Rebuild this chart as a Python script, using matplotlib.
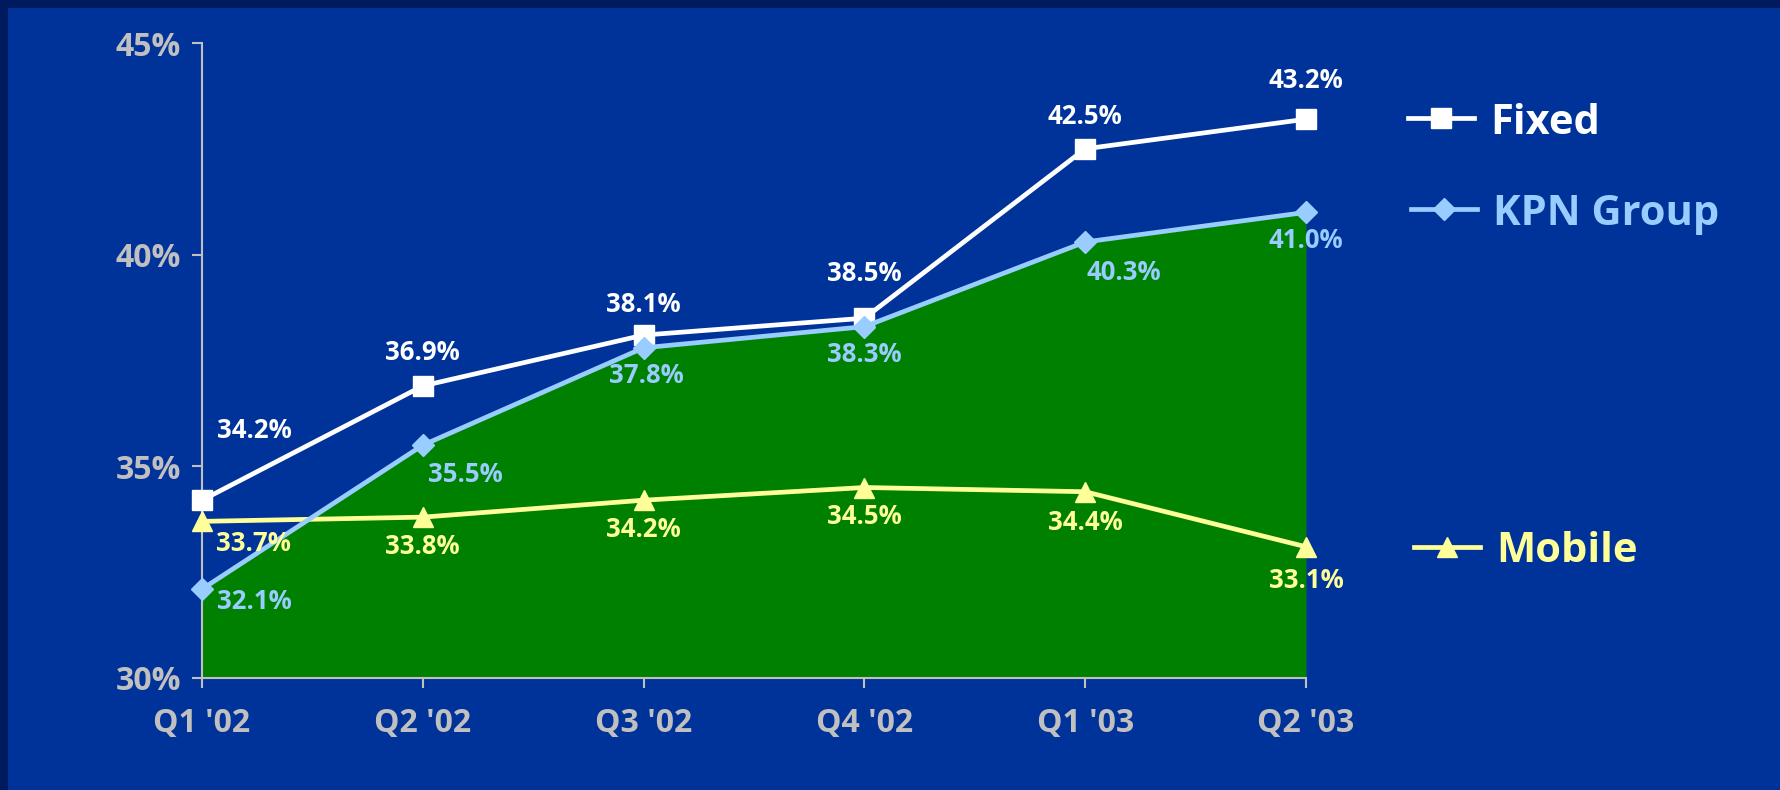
import matplotlib
matplotlib.use('Agg')
import matplotlib.pyplot as plt
from matplotlib.lines import Line2D
from matplotlib.patches import Rectangle

# quarterly margin per segment, in percent
quarters = ["Q1 '02", "Q2 '02", "Q3 '02", "Q4 '02", "Q1 '03", "Q2 '03"]
fixed = [34.2, 36.9, 38.1, 38.5, 42.5, 43.2]
kpn_group = [32.1, 35.5, 37.8, 38.3, 40.3, 41.0]
mobile = [33.7, 33.8, 34.2, 34.5, 34.4, 33.1]
y_ticks = [30, 35, 40, 45]

BG = '#003399'
BORDER = '#001a5e'
GREY = '#c0c0c0'
C_FIXED = 'white'
C_KPN = '#99ccff'
C_MOB = '#ffff99'
GREEN = '#008000'

plt.rcParams['font.family'] = ['Open Sans', 'DejaVu Sans']
plt.rcParams['font.weight'] = 'bold'

W, H = 1781, 790
fig = plt.figure(figsize=(W / 100, H / 100), dpi=100, facecolor=BG)

# dark frame along the top and left edges
fig.add_artist(Rectangle((0, 1 - 8 / H), 1, 8 / H, transform=fig.transFigure,
                         facecolor=BORDER, edgecolor='none'))
fig.add_artist(Rectangle((0, 0), 8 / W, 1, transform=fig.transFigure,
                         facecolor=BORDER, edgecolor='none'))

ax = fig.add_axes([202 / W, 1 - 678 / H, (1306 - 202) / W, (678 - 43) / H])
ax.set_facecolor('none')
x = list(range(len(quarters)))

ax.fill_between(x, 30, kpn_group, color=GREEN, linewidth=0, zorder=1)
ax.plot(x, mobile, color=C_MOB, lw=3.4, marker='^', ms=15, zorder=3, clip_on=False)
ax.plot(x, fixed, color=C_FIXED, lw=3.4, marker='s', ms=14, zorder=4, clip_on=False)
ax.plot(x, kpn_group, color=C_KPN, lw=3.4, marker='D', ms=11, zorder=5, clip_on=False)

ax.set_xlim(0, len(quarters) - 1)
ax.set_ylim(30, 45)
ax.set_xticks(x)
ax.set_xticklabels(quarters)
ax.set_yticks(y_ticks)
ax.set_yticklabels(['%d%%' % v for v in y_ticks])
for s in ('top', 'right'):
    ax.spines[s].set_visible(False)
for s in ('left', 'bottom'):
    ax.spines[s].set_color(GREY)
    ax.spines[s].set_linewidth(1.5)
ax.tick_params(colors=GREY, width=1.5, length=7, labelsize=23)
ax.tick_params(axis='x', pad=14)
ax.tick_params(axis='y', pad=8)

# label offsets in points (dx, dy) for each point of each series
fixed_off = [(38, 50), (0, 24), (0, 22), (0, 32), (0, 23), (0, 28)]
kpn_off = [(38, -9), (31, -21), (2, -20), (0, -20), (28, -22), (0, -20)]
mob_off = [(37, -16), (0, -21), (0, -21), (0, -21), (0, -22), (0, -24)]

for vals, offs, col in ((fixed, fixed_off, C_FIXED),
                        (kpn_group, kpn_off, C_KPN),
                        (mobile, mob_off, C_MOB)):
    for xi, v, (dx, dy) in zip(x, vals, offs):
        ax.annotate('%.1f%%' % v, (xi, v), xytext=(dx, dy), textcoords='offset points',
                    ha='center', va='center', color=col, fontsize=18.5,
                    fontweight='bold', zorder=6, annotation_clip=False)

# legend entries placed beside the lines
legend = [('Fixed', C_FIXED, 's', 14, 1408, 118),
          ('KPN Group', C_KPN, 'D', 11, 1411, 209),
          ('Mobile', C_MOB, '^', 15, 1414, 547)]
for name, col, mk, ms, x0, y0 in legend:
    yf = 1 - y0 / H
    fig.add_artist(Line2D([x0 / W, (x0 + 66) / W], [yf, yf], transform=fig.transFigure,
                          color=col, lw=3.4))
    fig.add_artist(Line2D([(x0 + 33) / W], [yf], transform=fig.transFigure,
                          color=col, marker=mk, ms=ms, lw=0))
    fig.text((x0 + 82) / W, yf, name, color=col, fontsize=30, fontweight='bold',
             ha='left', va='center_baseline')

fig.savefig('out.png', dpi=100, facecolor=BG)
